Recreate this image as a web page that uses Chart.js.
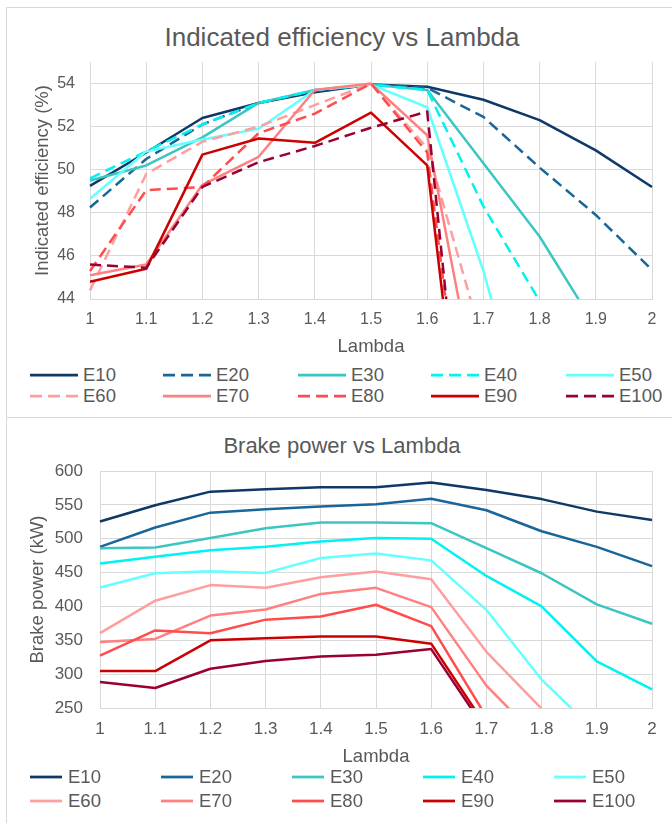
<!DOCTYPE html>
<html>
<head>
<meta charset="utf-8">
<title>Indicated efficiency / Brake power vs Lambda</title>
<script src="https://cdn.jsdelivr.net/npm/chart.js@4.4.1/dist/chart.umd.min.js"></script>
<style>
  html, body { margin: 0; padding: 0; background: #fff; }
  body { width: 672px; height: 823px; overflow: hidden; position: relative;
         font-family: Arial, "Liberation Sans", sans-serif; color: #595959; }
  .panel { position: absolute; left: 6px; width: 690px; border: 1px solid #d9d9d9; box-sizing: border-box; background: #fff; }
  #panelTop { top: 7px; height: 411px; }
  #panelBot { top: 417px; height: 430px; }
  canvas { position: absolute; left: 0; }
  #effChart { top: 0; }
  #bpChart { top: 417px; }
  .title { position: absolute; left: 0; width: 684px; text-align: center; white-space: nowrap; }
  #effTitle { top: 22px; font-size: 26px; line-height: 31px; }
  #bpTitle { top: 433px; font-size: 22px; line-height: 26px; }
  .lg-line { position: absolute; }
  .lg-text { position: absolute; white-space: nowrap; line-height: 18px; }
</style>
</head>
<body>
<div class="panel" id="panelTop"></div>
<div class="panel" id="panelBot"></div>
<div class="title" id="effTitle">Indicated efficiency vs Lambda</div>
<div class="title" id="bpTitle">Brake power vs Lambda</div>
<canvas id="effChart" width="672" height="360"></canvas>
<canvas id="bpChart" width="672" height="352"></canvas>
<div id="effLegend"></div>
<div id="bpLegend"></div>

<script>
// ---- datos ----
const lambdaLabels = ['1', '1.1', '1.2', '1.3', '1.4', '1.5', '1.6', '1.7', '1.8', '1.9', '2'];
const seriesNames = ['E10', 'E20', 'E30', 'E40', 'E50', 'E60', 'E70', 'E80', 'E90', 'E100'];

const effTicks = [44, 46, 48, 50, 52, 54];
const bpTicks = [250, 300, 350, 400, 450, 500, 550, 600];

// Indicated efficiency (%)
const effE10  = [49.25, 50.8, 52.4, 53.1, 53.6, 53.95, 53.85, 53.25, 52.3, 50.9, 49.2];
const effE20  = [48.25, 50.5, 52.1, 53.1, 53.65, 53.95, 53.8, 52.45, 50.1, 47.9, 45.35];
const effE30  = [49.5, 50.2, 51.5, 53.1, 53.7, 53.95, 53.7, 50.3, 46.9, 42.7, null];
const effE40  = [49.6, 50.85, 52.1, 53.1, 53.7, 53.95, 53.7, 48.3, 43.9, null, null];
const effE50  = [48.65, 50.85, 51.4, 51.9, 53.7, 53.95, 52.9, 45.3, 36.0, null, null];
const effE60  = [44.4, 49.8, 51.3, 52.0, 53.0, 54.0, 51.0, 41.9, null, null, null];
const effE70  = [45.1, 45.6, 49.3, 50.6, 53.7, 54.0, 51.6, 38.0, null, null, null];
const effE80  = [45.3, 49.05, 49.2, 51.7, 52.6, 54.0, 50.8, 30.0, null, null, null];
const effE90  = [44.8, 45.4, 50.7, 51.45, 51.25, 52.65, 50.2, 28.0, null, null, null];
const effE100 = [45.6, 45.45, 49.2, 50.35, 51.1, 51.95, 52.7, 27.0, null, null, null];

// Brake power (kW)
const bpE10  = [525.5, 549.5, 569.5, 573, 576, 576, 583, 572, 558.5, 540, 527.5];
const bpE20  = [488, 516.5, 538.5, 543.5, 547.5, 551, 559, 542, 511, 488, 459.5];
const bpE30  = [486, 487, 501, 515.5, 524, 524, 523, 486, 449, 403, 374.5];
const bpE40  = [463.5, 473.5, 483, 488, 496, 501, 500, 445, 400, 319, 277.5];
const bpE50  = [428, 449, 452, 449.5, 471.5, 478, 468, 395, 292, 213, null];
const bpE60  = [360.5, 408.5, 431.5, 427.5, 443, 451.5, 440, 333, 249, null, null];
const bpE70  = [347.5, 352, 386.5, 395.5, 418.5, 427.5, 399, 283, 200, null, null];
const bpE80  = [327.5, 364.5, 360.5, 380.5, 385, 402.5, 371, 237, null, null, null];
const bpE90  = [304.5, 304.5, 350, 353, 355.5, 355.5, 345, 222, null, null, null];
const bpE100 = [288.5, 279.5, 308, 319.5, 326, 328.5, 337, 216, null, null, null];

// ---- estilos ----
const seriesColors = ['#0e3866', '#1a6699', '#3cc6c2', '#00f2f2', '#66ffff',
                      '#ff9e9e', '#ff8080', '#ff4d4d', '#cc0000', '#990033'];
const effDashed = [false, true, false, true, false, true, false, true, false, true];
const bpDashed = [false, false, false, false, false, false, false, false, false, false];
const gridColor = '#d9d9d9';
const textColor = '#595959';
const DASH = [11, 6];

Chart.defaults.font.family = 'Arial, "Liberation Sans", sans-serif';

function makeDatasets(values, dashed) {
  return seriesNames.map((name, i) => ({
    label: name,
    data: values[i],
    borderColor: seriesColors[i],
    backgroundColor: seriesColors[i],
    borderWidth: 2.5,
    borderDash: dashed[i] ? DASH : [],
    borderJoinStyle: 'round',
    pointRadius: 0,
    tension: 0,
    fill: false,
    spanGaps: false,
    order: seriesNames.length - i,   // las ultimas series quedan encima
    clip: { left: 2, top: 2, right: 2, bottom: 0 }
  }));
}

function makeChart(id, datasets, cfg) {
  return new Chart(document.getElementById(id), {
    type: 'line',
    data: { labels: lambdaLabels, datasets },
    options: {
      responsive: false,
      animation: false,
      events: [],
      layout: { padding: cfg.padding },
      plugins: { legend: { display: false }, tooltip: { enabled: false }, title: { display: false } },
      scales: {
        x: {
          grid: { color: gridColor, lineWidth: 1, drawTicks: false },
          border: { color: gridColor, width: 1 },
          ticks: { color: textColor, font: { size: cfg.tickSize }, padding: cfg.xTickPad, maxRotation: 0, autoSkip: false },
          title: { display: true, text: 'Lambda', color: textColor, font: { size: 18.5 }, padding: 0 },
          afterFit: s => { s.height = cfg.xHeight; }
        },
        y: {
          min: cfg.min,
          max: cfg.max,
          afterBuildTicks: s => { s.ticks = cfg.ticks.map(v => ({ value: v })); },
          grid: { color: gridColor, lineWidth: 1, drawTicks: false },
          border: { color: gridColor, width: 1 },
          ticks: { color: textColor, font: { size: cfg.tickSize }, padding: cfg.yTickPad },
          title: { display: true, text: cfg.yTitle, color: textColor, font: { size: 18.5 }, padding: { top: cfg.yTitlePad, bottom: 0 } },
          afterFit: s => { s.width = cfg.yWidth; }
        }
      }
    }
  });
}

/* ------------------ leyenda html ------------------ */
function buildLegend(elId, dashed, lay) {
  const el = document.getElementById(elId);
  seriesNames.forEach((name, i) => {
    const x = lay.cols[i % 5];
    const cy = lay.rows[Math.floor(i / 5)];
    const ns = 'http://www.w3.org/2000/svg';
    const svg = document.createElementNS(ns, 'svg');
    svg.setAttribute('class', 'lg-line');
    svg.setAttribute('width', lay.len);
    svg.setAttribute('height', 6);
    svg.style.left = x + 'px';
    svg.style.top = (cy - 3) + 'px';
    const ln = document.createElementNS(ns, 'line');
    ln.setAttribute('x1', 0); ln.setAttribute('y1', 3);
    ln.setAttribute('x2', lay.len); ln.setAttribute('y2', 3);
    ln.setAttribute('stroke', seriesColors[i]);
    ln.setAttribute('stroke-width', 2.75);
    if (dashed[i]) ln.setAttribute('stroke-dasharray', lay.dash.join(' '));
    svg.appendChild(ln);
    el.appendChild(svg);

    const t = document.createElement('div');
    t.className = 'lg-text';
    t.textContent = name;
    t.style.fontSize = lay.font + 'px';
    t.style.left = (x + lay.len + lay.gap) + 'px';
    t.style.top = (cy - 9) + 'px';
    el.appendChild(t);
  });
}

makeChart('effChart',
  makeDatasets([effE10, effE20, effE30, effE40, effE50, effE60, effE70, effE80, effE90, effE100], effDashed),
  { padding: { left: 0, right: 20, top: 62, bottom: 2 }, xHeight: 59, yWidth: 90,
    min: 44, max: 55, ticks: effTicks, tickSize: 16, xTickPad: 11, yTickPad: 15,
    yTitle: 'Indicated efficiency (%)', yTitlePad: 32 });

makeChart('bpChart',
  makeDatasets([bpE10, bpE20, bpE30, bpE40, bpE50, bpE60, bpE70, bpE80, bpE90, bpE100], bpDashed),
  { padding: { left: 0, right: 20, top: 54, bottom: 1 }, xHeight: 60, yWidth: 100,
    min: 250, max: 600, ticks: bpTicks, tickSize: 17, xTickPad: 11, yTickPad: 17,
    yTitle: 'Brake power (kW)', yTitlePad: 27 });

buildLegend('effLegend', effDashed, { cols: [30, 163, 298, 431, 566], rows: [375, 396], len: 48, gap: 5, font: 18.5, dash: [12, 6] });
buildLegend('bpLegend', bpDashed, { cols: [30, 161, 292, 423, 554], rows: [777, 801], len: 32, gap: 6, font: 18.5, dash: [12, 6] });
</script>
</body>
</html>
